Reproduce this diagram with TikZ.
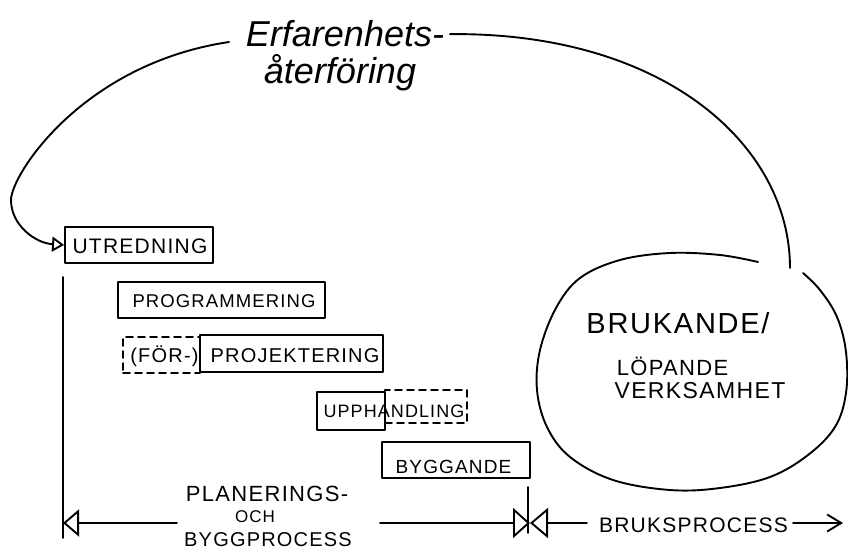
\documentclass[tikz,border=0pt]{standalone}
\usepackage{fontspec}
\setmainfont{Liberation Sans}
\newfontfamily\capsf{Liberation Sans}[LetterSpace=6]
\usetikzlibrary{arrows.meta}
\newcommand{\fsz}[1]{\fontsize{#1}{#1}\selectfont}
\begin{document}
\begin{tikzpicture}[x=1pt,y=-1pt,line width=1.9pt,line cap=round,line join=round,
  box/.style={draw,rectangle,inner sep=0pt},
  dbox/.style={draw,rectangle,inner sep=0pt,dash pattern=on 7pt off 5pt},
  lbl/.style={inner sep=0pt,anchor=base,font=\capsf},
]
\useasboundingbox (0,0) rectangle (848,551);

% feedback label
\node[anchor=base,inner xsep=5pt,inner ysep=0pt,font=\itshape\fsz{36}] (erf1) at (345,47) {Erfarenhets-};
\node[anchor=base,inner sep=0pt,font=\itshape\fsz{36}] (erf2) at (340,83) {återföring};

% boxes
\node[box,minimum width=148pt,minimum height=36pt] (ut) at (139,245) {};
\node[box,minimum width=207pt,minimum height=36pt] (prog) at (221.5,300) {};
\node[dbox,minimum width=77pt,minimum height=36pt] (forbox) at (161.5,355) {};
\node[box,minimum width=183pt,minimum height=37pt] (proj) at (291.5,353.5) {};
\node[box,minimum width=68pt,minimum height=38pt] (upa) at (351,411) {};
\node[dbox,minimum width=82pt,minimum height=33pt] (upb) at (426,406.5) {};
\node[box,minimum width=148pt,minimum height=36pt] (bygg) at (456,460) {};

% box labels
\node[lbl] (utl) at (140,253) {\fsz{21}UTREDNING};
\node[lbl] (progl) at (224,307) {\fsz{18.5}PROGRAMMERING};
\node[lbl] (forl) at (164.5,362) {\fsz{20}(FÖR-)};
\node[lbl] (projl) at (295,362) {\fsz{20}PROJEKTERING};
\node[lbl] (upl) at (394,417) {\fsz{18}UPPHANDLING};
\node[lbl] (byggl) at (453.5,473) {\fsz{19}BYGGANDE};

% blob
\coordinate (arcend) at (790,268);
\draw plot[smooth,tension=0.6] coordinates {(803,273) (820,290) (837,317) (846,352) (846,393) (835,427) (808,455) (770,477) (720,488) (670,490) (613,480) (570,457) (547,427) (537,390) (540,350) (556,308) (580,278) (620,260) (670,253) (720,255) (758,262)};
\node[lbl] (bruk) at (678,333) {\fsz{29}BRUKANDE/};
\node[lbl] (lop) at (672.5,375) {\fsz{22}LÖPANDE};
\node[lbl] (verk) at (700,398) {\fsz{23}VERKSAMHET};

% feedback arcs
\draw[-{Triangle[open,length=12pt,width=15pt]}] ([xshift=-11pt,yshift=5pt]erf1.base west)
  .. controls (82,64) and (11,175) .. (11,200)
  .. controls (11,225) and (35,243) .. (ut.west);
\draw (erf1.east) .. controls (664,32) and (790,145) .. (arcend);

% time axis
\coordinate (vtop) at (63,277);
\coordinate (vbot) at (63,538);
\draw (vtop) -- (vbot);
\coordinate (tipl) at (63,523);
\coordinate (pl) at (177,523);
\coordinate (pr) at (380,523);
\coordinate (mid) at (530,523);
\coordinate (br) at (587,523);
\coordinate (mtop) at (528,487);
\coordinate (mbot) at (528,533);
\coordinate (arl) at (793,523);
\coordinate (arr) at (843,523);
\draw[-{Triangle[open,length=16pt,width=27pt]}] (pl) -- (tipl);
\draw[-{Triangle[open,length=17pt,width=30pt]}] (pr) -- (mid);
\draw[-{Triangle[open,length=18pt,width=30pt]}] (br) -- (mid);
\draw (mtop) -- (mbot);
\draw[-{Straight Barb[length=14pt,width=17pt]}] (arl) -- (arr);

\node[lbl] (plan1) at (267,501) {\fsz{22}PLANERINGS-};
\node[lbl] (plan2) at (255,522) {\fsz{17}OCH};
\node[lbl] (plan3) at (268,546) {\fsz{20}BYGGPROCESS};
\node[lbl] (bp) at (693.5,532) {\fsz{21}BRUKSPROCESS};
\end{tikzpicture}
\end{document}
